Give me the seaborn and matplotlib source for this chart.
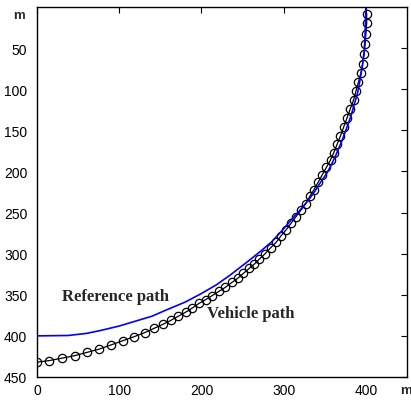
import matplotlib
matplotlib.use("Agg")
import matplotlib.pyplot as plt
import seaborn as sns
import pandas as pd

# Reference path (blue line), metres
ref_x = [0, 38, 60, 77, 100, 120, 140, 156, 180, 199, 218, 235, 257, 272, 285, 298, 310, 320,
         330, 338, 345, 352, 358, 364, 370, 376, 382, 386, 390, 393, 396, 398, 399, 400]
ref_y = [400, 399.5, 397, 393.5, 388, 382, 376, 369, 359, 349, 338, 326, 309, 297, 286, 272,
         258, 247, 235, 224, 213, 203, 192, 179, 165, 149, 132, 118, 104, 88, 70, 52, 35, 0]

# Vehicle path (black line with circles), metres
veh_x = [0, 15, 31, 46, 61, 76, 90, 104, 118, 131, 142, 153, 163, 172, 181, 189, 197, 205,
         213, 221, 229, 237, 244, 251, 258, 264, 270, 277, 284, 291, 297, 303, 309, 315,
         321, 327, 332, 337, 342, 347, 352, 357, 361, 365, 369, 373, 377, 381, 385, 388,
         391, 394, 396, 398, 399, 400, 401, 401]
veh_y = [432, 430, 427, 424, 420, 416, 411, 406, 401, 396, 391, 386, 381, 376, 371, 366, 360.5, 356,
         351, 346, 341, 335, 330, 324, 318, 313, 307, 300.5, 293, 286, 278, 271, 263, 255,
         247, 239, 230, 222, 213, 204, 195, 186, 177, 167, 157, 146, 135, 124, 113, 102,
         91, 80, 69, 57, 45, 33, 20, 8]

x_ticks = [0, 100, 200, 300, 400]
y_ticks = [50, 100, 150, 200, 250, 300, 350, 400, 450]

sns.set_style("white")
plt.rcParams['font.family'] = ['Liberation Sans', 'DejaVu Sans']

fig = plt.figure(figsize=(4.11, 4.02), dpi=100)
ax = fig.add_axes([37/411, 1 - 378/402, 370/411, 370/402])

ref_df = pd.DataFrame({"x": ref_x, "y": ref_y})
veh_df = pd.DataFrame({"x": veh_x, "y": veh_y})

sns.lineplot(data=veh_df, x="x", y="y", sort=False, estimator=None, ax=ax,
             color="black", linewidth=0.9, marker="o", markersize=6,
             markerfacecolor="none", markeredgecolor="black", markeredgewidth=0.9)
sns.lineplot(data=ref_df, x="x", y="y", sort=False, estimator=None, ax=ax,
             color="#0000ff", linewidth=1.2)

ax.set_xlim(0, 450)
ax.set_ylim(450, 0)
ax.set_xticks(x_ticks)
ax.set_yticks(y_ticks)
ax.set_xlabel("")
ax.set_ylabel("")
ax.tick_params(direction="in", length=4, width=0.8, top=True, right=True,
               labeltop=False, labelright=False, labelsize=10, colors="black")
ax.tick_params(axis="y", pad=7)
ax.tick_params(axis="x", pad=4)
for s in ax.spines.values():
    s.set_visible(True)
    s.set_color("black")
    s.set_linewidth(1.0)

ax.text(30, 351, "Reference path", family="Liberation Serif", fontweight="bold",
        fontsize=12, va="center", ha="left")
ax.text(207, 372, "Vehicle path", family="Liberation Serif", fontweight="bold",
        fontsize=12, va="center", ha="left")

fig.text(19/411, 1 - 16/402, "m", fontweight="bold", fontsize=9.5, ha="center", va="center")
fig.text(406/411, 1 - 391/402, "m", fontweight="bold", fontsize=9.5, ha="center", va="center")

fig.savefig("out.png", dpi=100)
